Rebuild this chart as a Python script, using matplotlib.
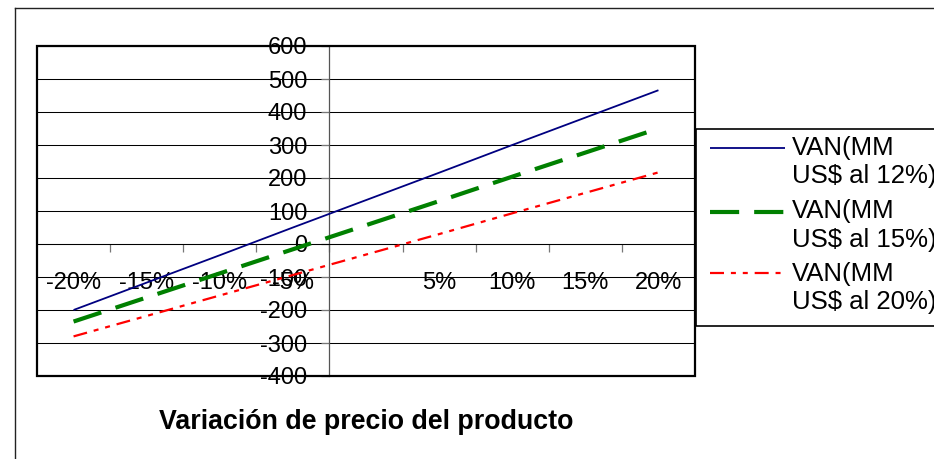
import numpy as np
import matplotlib
matplotlib.use("Agg")
import matplotlib.pyplot as plt
from matplotlib.lines import Line2D
from matplotlib.patches import Rectangle

plt.rcParams['font.family'] = ['Liberation Sans', 'DejaVu Sans']

# Price variation categories and NPV (MM US$) at each discount rate
categories = ["-20%", "-15%", "-10%", "-5%", "0%", "5%", "10%", "15%", "20%"]
tick_labels = ["-20%", "-15%", "-10%", "-5%", "", "5%", "10%", "15%", "20%"]
van_12 = [-200, -117, -34, 50, 133, 216, 300, 383, 466]
van_15 = [-235, -162, -89, -16, 57, 130, 204, 277, 350]
van_20 = [-280, -218, -156, -94, -32, 30, 93, 155, 217]
series_labels = ["VAN(MM\nUS$ al 12%)", "VAN(MM\nUS$ al 15%)", "VAN(MM\nUS$ al 20%)"]
y_ticks = list(range(-400, 700, 100))
x_title = "Variación de precio del producto"

W, H = 934, 459
fig = plt.figure(figsize=(W / 100, H / 100), dpi=100)
fig.patch.set_facecolor("white")


def fx(px):
    return px / W


def fy(py):
    return 1 - py / H


ax = fig.add_axes([fx(37), fy(376), (695 - 37) / W, (376 - 46) / H])
x = np.arange(len(categories))

styles = [
    dict(color="#000080", lw=1.3, ls="-"),
    dict(color="#008000", lw=3.0, dashes=(7.0, 3.6)),
    dict(color="#ff0000", lw=1.6, dashes=(6.3, 3.1, 2.25, 3.1, 2.25, 3.1)),
]
for vals, st in zip([van_12, van_15, van_20], styles):
    kw = dict(color=st["color"], lw=st["lw"], zorder=3, solid_capstyle="butt",
              dash_capstyle="butt")
    if "dashes" in st:
        kw["dashes"] = st["dashes"]
    ax.plot(x, vals, **kw)

ax.set_xlim(-0.5, len(categories) - 0.5)
ax.set_ylim(-400, 600)

# horizontal gridlines
ax.set_yticks(y_ticks)
ax.set_yticklabels([str(v) for v in y_ticks])
ax.yaxis.grid(True, color="black", lw=0.75, zorder=1)
ax.set_axisbelow(True)

# axes cross inside the plot: value axis between categories, category axis at 0
ax.spines["top"].set_visible(False)
ax.spines["right"].set_visible(False)
ax.spines["left"].set_position(("data", 3.5))
ax.spines["bottom"].set_position(("data", 0))
ax.spines["left"].set_color("#555555")
ax.spines["left"].set_linewidth(0.9)
ax.spines["bottom"].set_color("black")
ax.spines["bottom"].set_linewidth(0.75)

# category boundaries get tick marks, category centres get labels
ax.set_xticks(np.arange(0.5, len(categories) - 1, 1.0))
ax.set_xticklabels([])
ax.set_xticks(x, labels=tick_labels, minor=True)
ax.tick_params(axis="x", which="major", direction="out", length=6, width=0.9,
               color="#777777")
ax.tick_params(axis="x", which="minor", length=0, pad=20, labelsize=17)
ax.tick_params(axis="y", which="major", direction="out", length=6, width=0.9,
               color="#777777", pad=10, labelsize=17)
for lab in ax.get_xticklabels(minor=True) + ax.get_yticklabels():
    lab.set_zorder(4)

# plot area frame
ax.add_patch(Rectangle((0, 0), 1, 1, transform=ax.transAxes, fill=False,
                       lw=1.6, ec="black", zorder=6, clip_on=False))

# axis title
fig.text(fx(366), fy(429.3), x_title, ha="center", va="baseline",
         fontsize=19.3, fontweight="bold")

# chart area border
fig.add_artist(Line2D([fx(15), fx(15)], [fy(8), fy(470)], color="#222222",
                      lw=1.0, transform=fig.transFigure))
fig.add_artist(Line2D([fx(15), fx(950)], [fy(8), fy(8)], color="#222222",
                      lw=1.0, transform=fig.transFigure))

# legend box
fig.add_artist(Rectangle((fx(696), fy(326)), fx(960) - fx(696), fy(129) - fy(326),
                         transform=fig.transFigure, fill=False, lw=1.2,
                         ec="black"))
handle_y = [148.3, 212.3, 273.3]
text_base = [(155, 182.7), (218.3, 246.7), (280.7, 309)]
for st, hy, (b1, b2), label in zip(styles, handle_y, text_base, series_labels):
    kw = dict(color=st["color"], lw=st["lw"], transform=fig.transFigure,
              solid_capstyle="butt", dash_capstyle="butt")
    if "dashes" in st:
        kw["dashes"] = st["dashes"]
    fig.add_artist(Line2D([fx(710), fx(785)], [fy(hy), fy(hy)], **kw))
    first, second = label.split("\n")
    fig.text(fx(792), fy(b1), first, va="baseline", ha="left", fontsize=18.5)
    fig.text(fx(792), fy(b2), second, va="baseline", ha="left", fontsize=18.5)

fig.savefig("out.png", dpi=100)
